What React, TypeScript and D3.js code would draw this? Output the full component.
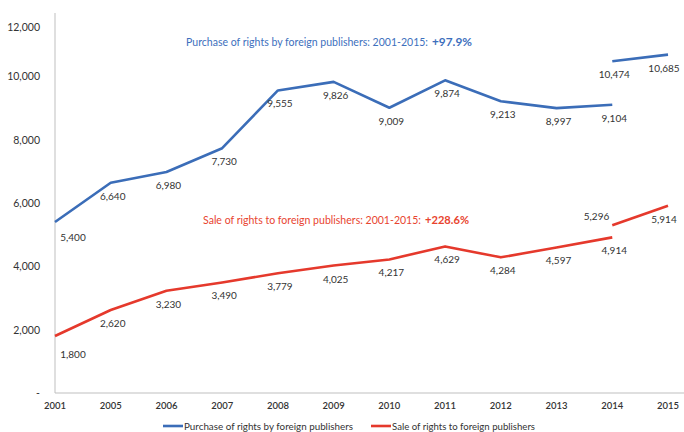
import React from "react";
import * as d3 from "d3";

// ---- data ----
const years = ["2001", "2005", "2006", "2007", "2008", "2009", "2010", "2011", "2012", "2013", "2014", "2015"];
const mainYears = years.slice(0, 11); // 2001–2014
const breakYears = ["2014", "2015"]; // series break (new method)
const purchaseMain = [5400, 6640, 6980, 7730, 9555, 9826, 9009, 9874, 9213, 8997, 9104];
const purchaseBreak = [10474, 10685];
const saleMain = [1800, 2620, 3230, 3490, 3779, 4025, 4217, 4629, 4284, 4597, 4914];
const saleBreak = [5296, 5914];
const yTicks = [0, 2000, 4000, 6000, 8000, 10000, 12000];
const seriesNames = ["Purchase of rights by foreign publishers", "Sale of rights to foreign publishers"];
const annotationTexts = [
  "Purchase of rights by foreign publishers: 2001-2015:",
  "Sale of rights to foreign publishers: 2001-2015:",
];
const annotationBold = ["+97.9%", "+228.6%"];

// ---- style ----
const W = 684;
const H = 432;
const BLUE = "#3B6DB8";
const BLUE_TEXT = "#3D6FBD";
const RED = "#E5392C";
const RED_TEXT = "#E8442F";
const LABEL = "#333333";
const AXIS = "#BFBFBF";
const FONT = "Lato, 'Open Sans', sans-serif";

const x = d3.scalePoint<string>().domain(years).range([55, 668]);
const y = d3.scaleLinear().domain([0, 12000]).range([393, 13]);
const fmt = d3.format(",");

type P = { year: string; v: number };
const zip = (ys: string[], vs: number[]): P[] => ys.map((yr, i) => ({ year: yr, v: vs[i] }));

const line = d3
  .line<P>()
  .x((d) => x(d.year) as number)
  .y((d) => y(d.v));

const series = [
  { color: BLUE, segs: [zip(mainYears, purchaseMain), zip(breakYears, purchaseBreak)] },
  { color: RED, segs: [zip(mainYears, saleMain), zip(breakYears, saleBreak)] },
];

function labelPlacement(si: number, segi: number, p: P) {
  // default: centred below the point
  let dx = 2;
  let dy = 17;
  let anchor: "middle" | "end" | "start" = "middle";
  if (p.year === "2001") {
    dx = 18;
    dy = si === 1 ? 22 : 19;
  }
  if (p.year === "2015") dx = -4;
  if (si === 1 && segi === 1 && p.year === "2014") {
    dx = -3;
    dy = -5;
    anchor = "end";
  }
  return { dx, dy, anchor };
}

export default function App() {
  const annPos = [
    { x: 186, y: 46, len: 242, bx: 432, blen: 40, color: BLUE_TEXT },
    { x: 203, y: 224, len: 218, bx: 425, blen: 44, color: RED_TEXT },
  ];
  const legend = [
    { x1: 163, x2: 183, tx: 184, tlen: 169, color: BLUE },
    { x1: 371, x2: 391, tx: 392, tlen: 143, color: RED },
  ];
  return (
    <svg
      width={W}
      height={H}
      style={{ position: "absolute", left: 0, top: 0, background: "#fff" }}
      fontFamily={FONT}
    >
      <rect width={W} height={H} fill="#fff" />
      {/* axes */}
      <line x1={55} x2={55} y1={y(12000)} y2={y(0)} stroke={AXIS} strokeWidth={1} />
      <line x1={55} x2={W} y1={y(0)} y2={y(0)} stroke={AXIS} strokeWidth={1} />
      {yTicks.map((t) => (
        <text
          key={t}
          x={40}
          y={Math.max(y(t), 27) + 4}
          textAnchor="end"
          fontSize={10.5}
          fill={LABEL}
        >
          {t === 0 ? "-" : fmt(t)}
        </text>
      ))}
      {years.map((yr) => (
        <text key={yr} x={x(yr)} y={409} textAnchor="middle" fontSize={9.5} fontWeight={600} fill={LABEL}>
          {yr}
        </text>
      ))}
      {/* lines */}
      {series.map((s, si) =>
        s.segs.map((seg, segi) => (
          <path
            key={`${si}-${segi}`}
            d={line(seg) || ""}
            fill="none"
            stroke={s.color}
            strokeWidth={2.6}
            strokeLinejoin="round"
          />
        ))
      )}
      {/* data labels */}
      {series.map((s, si) =>
        s.segs.map((seg, segi) =>
          seg.map((p) => {
            const lp = labelPlacement(si, segi, p);
            return (
              <text
                key={`${si}-${segi}-${p.year}`}
                x={(x(p.year) as number) + lp.dx}
                y={y(p.v) + lp.dy}
                textAnchor={lp.anchor}
                fontSize={10}
                fill={LABEL}
              >
                {fmt(p.v)}
              </text>
            );
          })
        )
      )}
      {/* annotations */}
      {annPos.map((a, i) => (
        <g key={i} fill={a.color}>
          <text x={a.x} y={a.y} fontSize={11} textLength={a.len} lengthAdjust="spacingAndGlyphs">
            {annotationTexts[i]}
          </text>
          <text
            x={a.bx}
            y={a.y}
            fontSize={11.5}
            fontWeight={700}
            textLength={a.blen}
            lengthAdjust="spacingAndGlyphs"
          >
            {annotationBold[i]}
          </text>
        </g>
      ))}
      {/* legend */}
      {legend.map((l, i) => (
        <g key={i}>
          <line x1={l.x1} x2={l.x2} y1={426} y2={426} stroke={l.color} strokeWidth={2.6} />
          <text x={l.tx} y={429.5} fontSize={10} fill={LABEL} textLength={l.tlen} lengthAdjust="spacingAndGlyphs">
            {seriesNames[i]}
          </text>
        </g>
      ))}
    </svg>
  );
}
